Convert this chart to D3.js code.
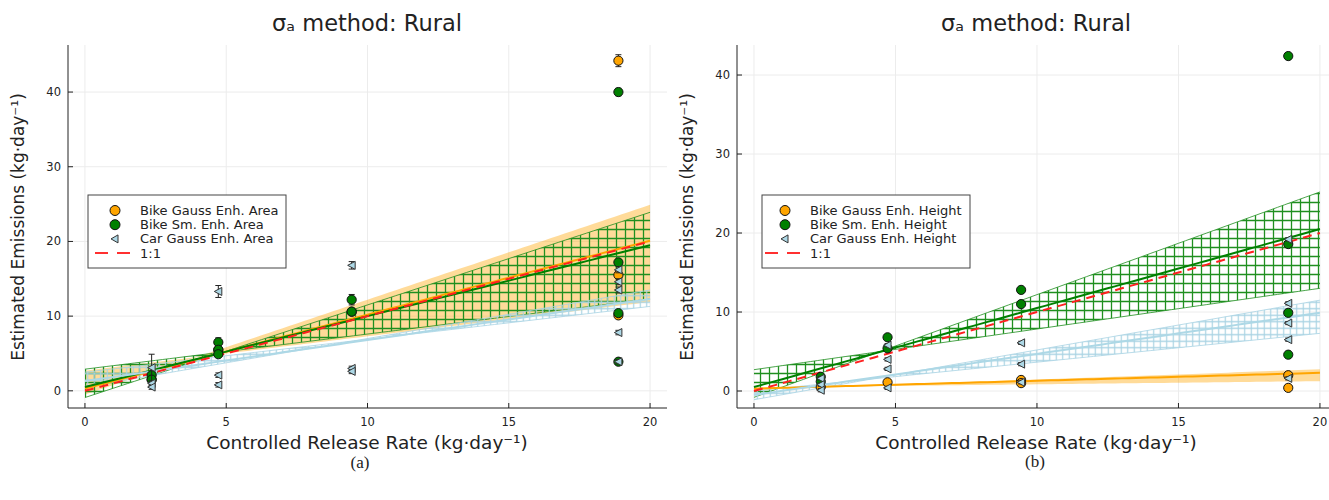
<!DOCTYPE html>
<html>
<head>
<meta charset="utf-8">
<script src="https://cdn.jsdelivr.net/npm/d3@7"></script>
<style>
  body { margin: 0; background: #fff; }
  svg { font-family: "DejaVu Sans", sans-serif; }
</style>
</head>
<body>
<svg id="chart" width="1329" height="500"></svg>
<script>
// 数据：每个点 [释放率, 估计值, 误差]
const areaGaussBike = [[2.36, 1.5, 0.3], [4.72, 5.5, 0.3], [9.44, 10.6, 0.4], [18.88, 44.2, 0.8], [18.88, 15.5, 0.4], [18.88, 10.1, 0.3]];
const areaSmBike = [[2.36, 2.1, 0.4], [2.36, 1.5, 0.3], [4.72, 6.5, 0.6], [4.72, 5.5, 0.4], [4.72, 4.9, 0.3], [9.44, 12.2, 0.7], [9.44, 10.6, 0.4], [18.88, 40.0, 0.5], [18.88, 17.2, 0.4], [18.88, 10.4, 0.3], [18.88, 3.9, 0.3]];
const areaGaussCar = [[2.36, 3.1, 1.8], [2.36, 1.0, 0.3], [2.36, 0.5, 0.3], [4.72, 13.3, 0.8], [4.72, 2.1, 0.3], [4.72, 0.8, 0.3], [9.44, 16.8, 0.5], [9.44, 3.0, 0.3], [9.44, 2.6, 0.3], [18.88, 16.2, 0.4], [18.88, 14.6, 0.4], [18.88, 13.5, 0.4], [18.88, 7.8, 0.3], [18.88, 3.9, 0.3]];

const heightGaussBike = [[2.36, 0.5, 0.2], [4.72, 1.1, 0.2], [9.44, 1.4, 0.2], [9.44, 1.0, 0.2], [18.88, 2.0, 0.2], [18.88, 0.4, 0.2]];
const heightSmBike = [[2.36, 1.8, 0.3], [2.36, 1.2, 0.3], [4.72, 6.8, 0.3], [4.72, 5.4, 0.3], [9.44, 12.8, 0.3], [9.44, 11.0, 0.3], [18.88, 42.4, 0.3], [18.88, 18.6, 0.3], [18.88, 9.9, 0.3], [18.88, 4.6, 0.3]];
const heightGaussCar = [[2.36, 1.6, 0.2], [2.36, 0.8, 0.2], [2.36, 0.1, 0.2], [4.72, 5.8, 0.2], [4.72, 4.0, 0.2], [4.72, 2.8, 0.2], [4.72, 0.4, 0.2], [9.44, 6.1, 0.2], [9.44, 3.4, 0.2], [9.44, 1.1, 0.2], [18.88, 19.2, 0.2], [18.88, 11.1, 0.2], [18.88, 8.6, 0.2], [18.88, 6.5, 0.2], [18.88, 1.6, 0.2]];

// 拟合线 [截距, 斜率]，顺序：Bike Gauss, Bike Sm, Car Gauss
const areaFits = [[0.3, 0.99], [0.5, 0.95], [1.3, 0.55]];
const areaBandSteep = [[-0.5, 1.27], [-0.9, 1.24], [0.5, 0.65]];
const areaBandFlat = [[2.7, 0.46], [2.9, 0.47], [2.5, 0.44]];

const heightFits = [[0.3, 0.1], [0.5, 1.0], [-0.5, 0.52]];
const heightBandSteep = [[0.15, 0.13], [-0.8, 1.3], [-1.1, 0.63]];
const heightBandFlat = [[0.45, 0.04], [2.7, 0.515], [0.0, 0.365]];

const xTicks = [0, 5, 10, 15, 20];
const yTicks = [0, 10, 20, 30, 40];
const areaLabels = ["Bike Gauss Enh. Area", "Bike Sm. Enh. Area", "Car Gauss Enh. Area", "1:1"];
const heightLabels = ["Bike Gauss Enh. Height", "Bike Sm. Enh. Height", "Car Gauss Enh. Height", "1:1"];

const colors = ["#ffa500", "#008000", "#add8e6"];
const svg = d3.select("#chart");
const defs = svg.append("defs");

// 十字阴影图案
function hatch(id, color, size, width) {
    const p = defs.append("pattern").attr("id", id)
        .attr("patternUnits", "userSpaceOnUse")
        .attr("width", size).attr("height", size);
    p.append("path")
        .attr("d", `M${size / 2},0V${size}M0,${size / 2}H${size}`)
        .attr("stroke", color).attr("stroke-width", width).attr("fill", "none");
}
hatch("hatchGreen", "#1f8f1f", 9, 1.3);
hatch("hatchBlue", "#a9d3e3", 6.5, 1.2);

function drawPanel(cfg) {
    const x = d3.scaleLinear().domain(cfg.xDomain).range(cfg.xRange);
    const y = d3.scaleLinear().domain(cfg.yDomain).range([408, 45]);
    const g = svg.append("g");

    // 裁剪区域
    defs.append("clipPath").attr("id", cfg.id + "clip").append("rect")
        .attr("x", cfg.xRange[0]).attr("y", 45)
        .attr("width", cfg.xRange[1] - cfg.xRange[0]).attr("height", 363);

    // 网格
    g.selectAll(".vg").data(xTicks).join("line")
        .attr("x1", d => x(d)).attr("x2", d => x(d)).attr("y1", 45).attr("y2", 408)
        .attr("stroke", "#ececec").attr("stroke-width", 1);
    g.selectAll(".hg").data(yTicks).join("line")
        .attr("x1", cfg.xRange[0]).attr("x2", cfg.xRange[1]).attr("y1", d => y(d)).attr("y2", d => y(d))
        .attr("stroke", "#ececec").attr("stroke-width", 1);

    const plot = g.append("g").attr("clip-path", `url(#${cfg.id}clip)`);
    const xs = d3.range(0, 20.01, 0.25);
    const line = (a, b) => xs.map(v => [x(v), y(a + b * v)]);

    // 置信带
    const fills = ["rgba(255,165,0,0.4)", `url(#hatchGreen)`, `url(#hatchBlue)`];
    const edges = ["none", "#1f8f1f", "#a9d3e3"];
    [0, 1, 2].forEach(i => {
        const s = cfg.steep[i], f = cfg.flat[i];
        const up = xs.map(v => [x(v), y(Math.max(s[0] + s[1] * v, f[0] + f[1] * v))]);
        const lo = xs.map(v => [x(v), y(Math.min(s[0] + s[1] * v, f[0] + f[1] * v))]).reverse();
        plot.append("path").attr("d", d3.line()(up.concat(lo)) + "Z")
            .attr("fill", fills[i]).attr("stroke", "none");
        if (edges[i] !== "none") {
            [s, f].forEach(e => plot.append("path").attr("d", d3.line()(line(e[0], e[1])))
                .attr("fill", "none").attr("stroke", edges[i]).attr("stroke-width", 1).attr("opacity", 0.8));
        }
    });

    // 拟合线
    [0, 1, 2].forEach(i => {
        plot.append("path").attr("d", d3.line()(line(cfg.fits[i][0], cfg.fits[i][1])))
            .attr("fill", "none").attr("stroke", colors[i]).attr("stroke-width", 2);
    });
    // 1:1
    plot.append("path").attr("d", d3.line()(line(0, 1)))
        .attr("fill", "none").attr("stroke", "#ff2020").attr("stroke-width", 2)
        .attr("stroke-dasharray", "9,6");

    // 散点 + 误差棒
    cfg.points.forEach((pts, i) => {
        pts.forEach(p => {
            const px = x(p[0]), y1 = y(p[1] + p[2]), y0 = y(p[1] - p[2]);
            plot.append("path").attr("d", `M${px},${y0}V${y1}M${px - 3},${y0}H${px + 3}M${px - 3},${y1}H${px + 3}`)
                .attr("stroke", "#222").attr("stroke-width", 1).attr("fill", "none");
        });
        pts.forEach(p => {
            const px = x(p[0]), py = y(p[1]);
            if (i < 2) {
                plot.append("circle").attr("cx", px).attr("cy", py).attr("r", 4.6)
                    .attr("fill", colors[i]).attr("stroke", "#111").attr("stroke-width", 1);
            } else {
                plot.append("path").attr("d", `M${px - 4},${py}L${px + 3.5},${py - 4}L${px + 3.5},${py + 4}Z`)
                    .attr("fill", colors[i]).attr("stroke", "#333").attr("stroke-width", 1);
            }
        });
    });

    // 坐标轴
    g.append("line").attr("x1", cfg.xRange[0]).attr("x2", cfg.xRange[1]).attr("y1", 408).attr("y2", 408)
        .attr("stroke", "#222").attr("stroke-width", 1);
    g.append("line").attr("x1", cfg.xRange[0]).attr("x2", cfg.xRange[0]).attr("y1", 45).attr("y2", 408)
        .attr("stroke", "#222").attr("stroke-width", 1);
    g.selectAll(".xt").data(xTicks).join("line")
        .attr("x1", d => x(d)).attr("x2", d => x(d)).attr("y1", 408).attr("y2", 403).attr("stroke", "#222");
    g.selectAll(".yt").data(yTicks).join("line")
        .attr("x1", cfg.xRange[0]).attr("x2", cfg.xRange[0] + 5).attr("y1", d => y(d)).attr("y2", d => y(d)).attr("stroke", "#222");
    g.selectAll(".xl").data(xTicks).join("text")
        .attr("x", d => x(d)).attr("y", 426).attr("text-anchor", "middle")
        .attr("font-size", 11.5).attr("fill", "#222").text(d => d);
    g.selectAll(".yl").data(yTicks).join("text")
        .attr("x", cfg.xRange[0] - 7).attr("y", d => y(d) + 4).attr("text-anchor", "end")
        .attr("font-size", 11.5).attr("fill", "#222").text(d => d);

    // 标题与轴标签
    g.append("text").attr("x", cfg.center).attr("y", 31).attr("text-anchor", "middle")
        .attr("font-size", 22.5).attr("fill", "#222").text("σₐ method: Rural");
    g.append("text").attr("x", cfg.center).attr("y", 449).attr("text-anchor", "middle")
        .attr("font-size", 18.5).attr("fill", "#222").text("Controlled Release Rate (kg·day⁻¹)");
    g.append("text").attr("transform", `translate(${cfg.xRange[0] - 44},227) rotate(-90)`)
        .attr("text-anchor", "middle").attr("font-size", 17).attr("fill", "#222")
        .text("Estimated Emissions (kg·day⁻¹)");
    g.append("text").attr("x", cfg.capX).attr("y", cfg.capY).attr("text-anchor", "middle")
        .attr("font-family", "Liberation Serif, serif").attr("font-size", 17).attr("fill", "#222")
        .text(cfg.caption);

    // 图例
    const L = cfg.legend;
    const lg = g.append("g").attr("transform", `translate(${L[0]},${L[1]})`);
    lg.append("rect").attr("width", L[2]).attr("height", 73)
        .attr("fill", "#fff").attr("stroke", "#444").attr("stroke-width", 1);
    cfg.labels.forEach((t, i) => {
        const cy = 15.5 + i * 14.2;
        if (i < 2) {
            lg.append("circle").attr("cx", L[3]).attr("cy", cy).attr("r", 5)
                .attr("fill", colors[i]).attr("stroke", "#111");
        } else if (i === 2) {
            lg.append("path").attr("d", `M${L[3] - 4},${cy}L${L[3] + 3},${cy - 4}L${L[3] + 3},${cy + 4}Z`)
                .attr("fill", colors[2]).attr("stroke", "#333");
        } else {
            lg.append("line").attr("x1", L[3] - 20).attr("x2", L[3] + 15).attr("y1", cy).attr("y2", cy)
                .attr("stroke", "#ff3030").attr("stroke-width", 2).attr("stroke-dasharray", "13,9");
        }
        lg.append("text").attr("x", L[4]).attr("y", cy + 4.5).attr("font-size", 13)
            .attr("fill", "#222").text(t);
    });
}

drawPanel({
    id: "a", xDomain: [-0.6, 20.6], xRange: [68, 667], yDomain: [-2.3, 46.3],
    center: 367, caption: "(a)", capX: 360, capY: 468,
    fits: areaFits, steep: areaBandSteep, flat: areaBandFlat,
    points: [areaGaussBike, areaSmBike, areaGaussCar],
    labels: areaLabels, legend: [88, 195, 198, 27, 52]
});
drawPanel({
    id: "b", xDomain: [-0.6, 20.32], xRange: [737, 1329], yDomain: [-2.15, 43.8],
    center: 1036, caption: "(b)", capX: 1035, capY: 467,
    fits: heightFits, steep: heightBandSteep, flat: heightBandFlat,
    points: [heightGaussBike, heightSmBike, heightGaussCar],
    labels: heightLabels, legend: [762, 195, 208, 23, 48]
});
</script>
</body>
</html>
